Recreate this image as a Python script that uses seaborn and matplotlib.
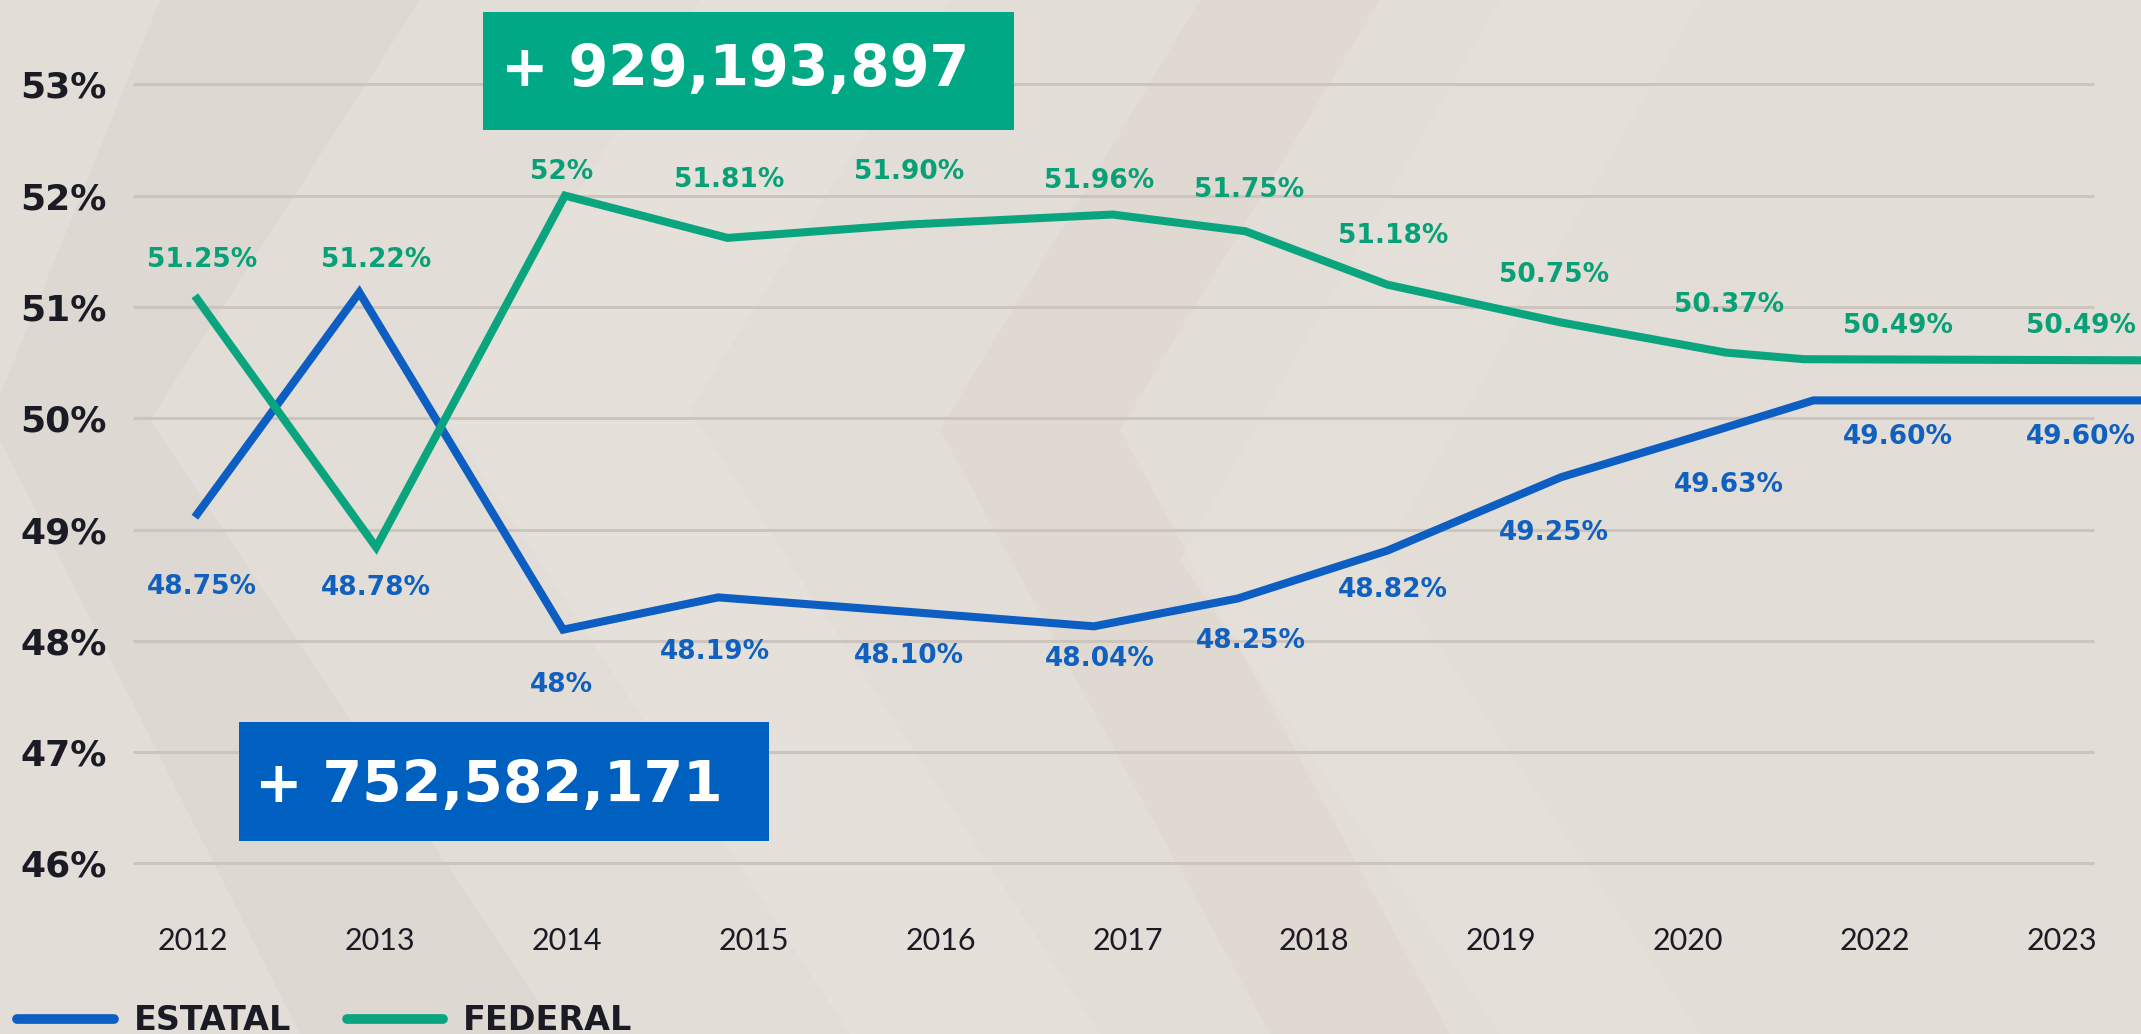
import numpy as np
import pandas as pd
import matplotlib
matplotlib.use("Agg")
import matplotlib.pyplot as plt
from matplotlib.patches import Rectangle, Polygon
from matplotlib.lines import Line2D
import seaborn as sns

# ---------------- data ----------------
year_labels = ["2012", "2013", "2014", "2015", "2016", "2017",
               "2018", "2019", "2020", "2022", "2023"]
pct_ticks = [46, 47, 48, 49, 50, 51, 52, 53]

# vertex positions of each drawn line (in year-tick units) and plotted values (%)
estatal_pos = [0.01, 0.89, 1.98, 2.81, 3.83, 4.82, 5.59, 6.39, 7.32, 8.13, 8.67, 10.45]
estatal_val = [49.11, 51.13, 48.10, 48.39, 48.26, 48.13, 48.38, 48.81, 49.47, 49.88, 50.16, 50.16]
federal_pos = [0.01, 0.98, 1.99, 2.86, 3.83, 4.92, 5.63, 6.39, 7.32, 8.20, 8.62, 10.45]
federal_val = [51.10, 48.84, 52.00, 51.62, 51.74, 51.83, 51.68, 51.20, 50.86, 50.59, 50.53, 50.52]

# printed value labels
federal_labels = ["51.25%", "51.22%", "52%", "51.81%", "51.90%", "51.96%",
                  "51.75%", "51.18%", "50.75%", "50.37%", "50.49%", "50.49%"]
estatal_labels = ["48.75%", "48.78%", "48%", "48.19%", "48.10%", "48.04%",
                  "48.25%", "48.82%", "49.25%", "49.63%", "49.60%", "49.60%"]

federal_total = "+ 929,193,897"
estatal_total = "+ 752,582,171"

# ---------------- style ----------------
BG = "#e2ddd6"
GREEN = "#0aa57e"
BLUE = "#0d5ec2"
GREEN_TXT = "#08a077"
BLUE_TXT = "#1060c0"
GREEN_BOX = "#00a886"
BLUE_BOX = "#0060c0"
DARK = "#1b1b26"
GRID = "#cbc5be"

sns.set_theme(style="white")
plt.rcParams["font.family"] = ["DejaVu Sans"]

W, H = 2141, 1034
fig = plt.figure(figsize=(W / 100, H / 100), dpi=100)
fig.patch.set_facecolor(BG)

def fx(px):
    return px / W

def fy(py):
    return 1 - py / H

# subtle chevron background shapes
chev = [
    ([(160, 0), (420, 0), (150, 420), (560, 1034), (300, 1034), (-10, 420)], "#d9d3cb", 0.45),
    ([(700, 0), (950, 0), (690, 410), (1100, 1034), (850, 1034), (440, 410)], "#e9e5df", 0.55),
    ([(1200, 0), (1380, 0), (1120, 430), (1450, 1034), (1270, 1034), (940, 430)], "#dad4cc", 0.35),
    ([(1500, 0), (1700, 0), (1380, 560), (1700, 1034), (1500, 1034), (1180, 560)], "#e8e4de", 0.45),
]
for pts, col, a in chev:
    fig.add_artist(Polygon([(fx(x), fy(y)) for x, y in pts], closed=True,
                           transform=fig.transFigure, facecolor=col,
                           edgecolor="none", alpha=a, zorder=0))

# axes placed so that the grid matches the reference
ax_left, ax_top, ax_bottom = 133, 40, 890
ax = fig.add_axes([fx(ax_left), fy(ax_bottom), 1 - fx(ax_left), (ax_bottom - ax_top) / H])
ax.set_facecolor("none")
x0 = 193.0
dx = 186.9
ax.set_xlim((ax_left - x0) / dx, (W - x0) / dx)
y53 = 84.3
dy = 111.3
ax.set_ylim(53 - (ax_bottom - y53) / dy, 53 + (y53 - ax_top) / dy)

for v in pct_ticks:
    ax.axhline(v, xmin=0, xmax=(2094 - ax_left) / (W - ax_left),
               color=GRID, lw=2.2, zorder=1)

df = pd.DataFrame({
    "pos": estatal_pos + federal_pos,
    "value": estatal_val + federal_val,
    "serie": ["ESTATAL"] * len(estatal_pos) + ["FEDERAL"] * len(federal_pos),
})
sns.lineplot(data=df, x="pos", y="value", hue="serie",
             palette={"ESTATAL": BLUE, "FEDERAL": GREEN},
             sort=False, estimator=None, linewidth=5.8, legend=False,
             ax=ax, zorder=3)
for ln in ax.get_lines():
    ln.set_solid_capstyle("butt")
    ln.set_solid_joinstyle("miter")

# ticks
ax.set_xticks(range(len(year_labels)))
ax.set_xticklabels(year_labels, fontfamily="Lato", fontsize=22, color=DARK)
ax.set_yticks(pct_ticks)
ax.set_yticklabels([f"{v}%" for v in pct_ticks], fontweight="bold",
                   fontsize=26, color=DARK)
ax.tick_params(axis="x", length=0, pad=27)
ax.tick_params(axis="y", length=0, pad=19)
ax.set_xlabel("")
ax.set_ylabel("")
for s in ax.spines.values():
    s.set_visible(False)
ax.grid(False)

# value labels (placement)
fed_lab_x = [0.05, 0.98, 1.97, 2.87, 3.83, 4.85, 5.65, 6.42, 7.28, 8.22, 9.12, 10.10]
fed_lab_y = [51.42, 51.42, 52.21, 52.14, 52.21, 52.13, 52.05, 51.64, 51.29, 51.02, 50.83, 50.83]
est_lab_x = [0.05, 0.98, 1.97, 2.79, 3.83, 4.85, 5.66, 6.42, 7.28, 8.22, 9.12, 10.10]
est_lab_y = [48.48, 48.47, 47.60, 47.90, 47.86, 47.84, 48.00, 48.46, 48.97, 49.40, 49.83, 49.83]
for x, y, t in zip(fed_lab_x, fed_lab_y, federal_labels):
    ax.text(x, y, t, ha="center", va="center", fontsize=19, fontweight="bold",
            color=GREEN_TXT, zorder=4)
for x, y, t in zip(est_lab_x, est_lab_y, estatal_labels):
    ax.text(x, y, t, ha="center", va="center", fontsize=19, fontweight="bold",
            color=BLUE_TXT, zorder=4)

# total boxes
def box(x1, y1, x2, y2, color, text, tx, ty):
    fig.add_artist(Rectangle((fx(x1), fy(y2)), fx(x2 - x1), (y2 - y1) / H,
                             transform=fig.transFigure, facecolor=color,
                             edgecolor="none", zorder=5))
    fig.text(fx(tx), fy(ty), text, ha="center", va="center", fontsize=41,
             fontweight="bold", color="white", zorder=6)

box(483, 12, 1014, 130, GREEN_BOX, federal_total, 735, 71)
box(239, 722, 769, 841, BLUE_BOX, estatal_total, 489, 786)

# legend
handles = [Line2D([], [], color=BLUE, lw=7, solid_capstyle="round"),
           Line2D([], [], color=GREEN, lw=7, solid_capstyle="round")]
fig.legend(handles=handles, labels=["ESTATAL", "FEDERAL"], ncol=2,
           loc="center left", bbox_to_anchor=(fx(17), fy(1021)),
           frameon=False, handlelength=2.9, handletextpad=0.6,
           columnspacing=1.67, borderpad=0, borderaxespad=0,
           prop=dict(family="DejaVu Sans", weight="bold", size=24),
           labelcolor=DARK)

fig.savefig("out.png", dpi=100, facecolor=BG)
